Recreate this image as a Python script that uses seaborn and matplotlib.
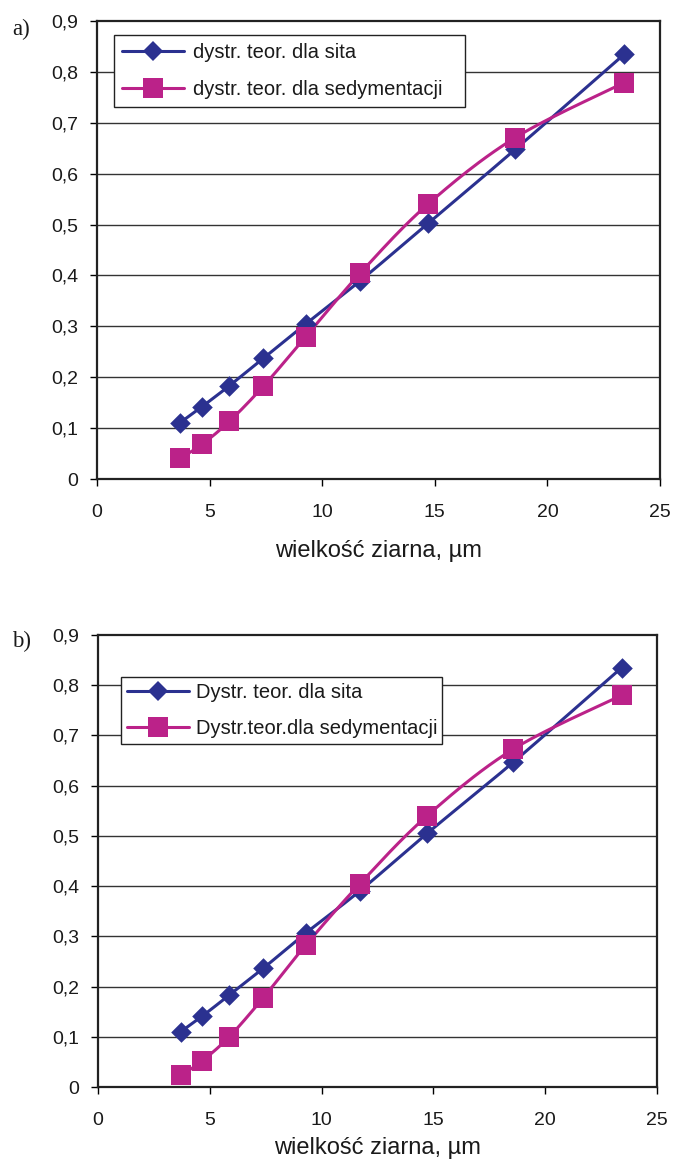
import numpy as np
import pandas as pd
import matplotlib
matplotlib.use("Agg")
import matplotlib.pyplot as plt
from matplotlib.lines import Line2D
from matplotlib.ticker import FuncFormatter, MultipleLocator
import seaborn as sns

# grain size classes, µm
grain_size = [3.70, 4.66, 5.87, 7.38, 9.28, 11.70, 14.72, 18.58, 23.42]

# panel a)
sieve_a = [0.111, 0.142, 0.183, 0.237, 0.305, 0.390, 0.503, 0.648, 0.835]
sedim_a = [0.041, 0.068, 0.113, 0.182, 0.280, 0.405, 0.541, 0.671, 0.779]
labels_a = ["dystr. teor. dla sita", "dystr. teor. dla sedymentacji"]

# panel b)
sieve_b = [0.110, 0.141, 0.183, 0.236, 0.306, 0.390, 0.505, 0.647, 0.835]
sedim_b = [0.023, 0.052, 0.100, 0.177, 0.282, 0.404, 0.540, 0.673, 0.780]
labels_b = ["Dystr. teor. dla sita", "Dystr.teor.dla sedymentacji"]

x_label = "wielkość ziarna, µm"

BLUE = "#2b3190"
MAGENTA = "#bb2289"
INK = "#1a1a1a"

sns.set_theme(style="white")
plt.rcParams["font.family"] = ["Liberation Sans", "DejaVu Sans"]

W, H = 676, 1165
fig = plt.figure(figsize=(W / 100, H / 100), dpi=100)


def smooth(x, y, n=24):
    """Bezier smoothing through the points (spreadsheet-style smoothed line)."""
    p = np.column_stack([x, y]).astype(float)
    pe = np.vstack([p[0], p, p[-1]])
    t = np.linspace(0, 1, n)[:, None]
    parts = []
    for i in range(len(p) - 1):
        p0, p1, p2, p3 = pe[i], pe[i + 1], pe[i + 2], pe[i + 3]
        c1 = p1 + (p2 - p0) / 6
        c2 = p2 - (p3 - p1) / 6
        seg = (1 - t) ** 3 * p1 + 3 * (1 - t) ** 2 * t * c1 + 3 * (1 - t) * t ** 2 * c2 + t ** 3 * p2
        parts.append(seg if i == 0 else seg[1:])
    c = np.vstack(parts)
    return pd.DataFrame({"x": c[:, 0], "y": c[:, 1]})


def comma(v, _):
    if abs(v) < 1e-9:
        return "0"
    return f"{v:.1f}".replace(".", ",")


def panel(rect_px, sieve, sedim, labels, legend_box, legend_opts, tag, tag_px, xlabelpad):
    l, t, r, b = rect_px
    ax = fig.add_axes([l / W, 1 - b / H, (r - l) / W, (b - t) / H])
    ax.set_xlim(0, 25)
    ax.set_ylim(0, 0.9)

    for yv in np.arange(0.1, 0.9, 0.1):
        ax.axhline(yv, color="#333333", lw=1.0, zorder=1)

    series = [(sieve, BLUE, "D", 110), (sedim, MAGENTA, "s", 225)]
    for vals, col, mk, s in series:
        sns.lineplot(data=smooth(grain_size, vals), x="x", y="y", sort=False,
                     estimator=None, color=col, lw=2.2, ax=ax, zorder=3)
        sns.scatterplot(x=grain_size, y=vals, marker=mk, s=s, color=col,
                        edgecolor=col, linewidth=0, ax=ax, zorder=4)

    ax.xaxis.set_major_locator(MultipleLocator(5))
    ax.yaxis.set_major_locator(MultipleLocator(0.1))
    ax.yaxis.set_major_formatter(FuncFormatter(comma))
    ax.tick_params(axis="both", which="major", direction="out", length=5,
                   width=1.0, color="black", labelsize=14, labelcolor=INK,
                   left=True, bottom=True)
    ax.tick_params(axis="y", pad=8.5)
    ax.tick_params(axis="x", pad=13)
    for sp in ax.spines.values():
        sp.set_color("#222222")
        sp.set_linewidth(1.6)
    ax.set_xlabel(x_label, fontsize=17, color=INK, labelpad=xlabelpad)
    ax.set_ylabel("")

    handles = [
        Line2D([], [], color=BLUE, lw=2.2, marker="D", markersize=10.5, markeredgewidth=0),
        Line2D([], [], color=MAGENTA, lw=2.2, marker="s", markersize=15, markeredgewidth=0),
    ]
    bx0, by0, bx1, by1 = legend_box
    leg = ax.legend(handles, labels, loc="upper left", mode="expand",
                    bbox_to_anchor=(bx0 / W, 1 - by1 / H, (bx1 - bx0) / W, (by1 - by0) / H),
                    bbox_transform=fig.transFigure,
                    frameon=True, fancybox=False, framealpha=1, edgecolor="#222222",
                    fontsize=14.5, handlelength=3.1, borderaxespad=0, **legend_opts)
    leg.get_frame().set_linewidth(1.0)
    for txt in leg.get_texts():
        txt.set_color(INK)

    fig.text(tag_px[0] / W, 1 - tag_px[1] / H, tag, fontsize=16.5,
             family=["Liberation Serif", "DejaVu Serif"], ha="left", va="center",
             color=INK)
    return ax


panel((97, 21, 660, 479), sieve_a, sedim_a, labels_a, (114, 35, 465, 108),
      dict(handletextpad=0.4, borderpad=0.4, labelspacing=0.9), "a)", (12, 29), 14)
panel((98, 635, 657, 1087), sieve_b, sedim_b, labels_b, (121, 677, 442, 743),
      dict(handletextpad=0.3, borderpad=0.3, labelspacing=0.85), "b)", (12, 641), 6)

fig.savefig("out.png", dpi=100)
